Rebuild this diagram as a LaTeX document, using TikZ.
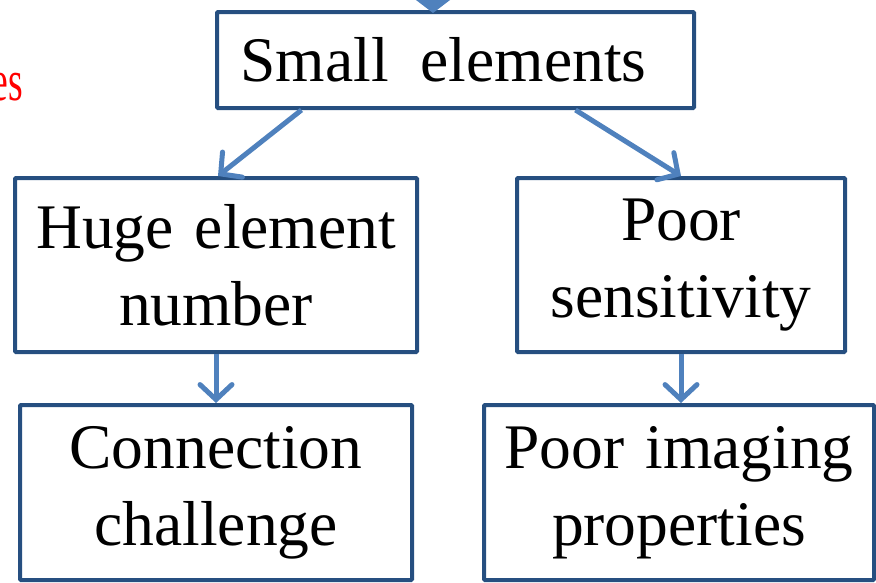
\documentclass[tikz,border=0pt]{standalone}
\usepackage{fontspec}
\setmainfont{Liberation Serif}
\usetikzlibrary{arrows.meta}
\definecolor{boxblue}{RGB}{38,79,128}
\definecolor{arrowblue}{RGB}{79,129,189}
\tikzset{
  case/.style={draw=boxblue, line width=4pt, rounded corners=1pt, inner sep=0pt,
    align=center, font=\fontsize{63.5}{77}\selectfont},
  fleche/.style={draw=arrowblue, line width=5pt,
    -{Straight Barb[length=15pt,width=32pt,line cap=round]}},
}
\begin{document}
\begin{tikzpicture}[x=1pt, y=-1pt]
\useasboundingbox (0,0) rectangle (876,582);
\clip (0,0) rectangle (876,582);
%
\node[case, minimum width=477pt, minimum height=96pt] (small) at (455.5,60) {\raisebox{-6pt}{Small~ elements}\hspace*{24pt}};
\node[case, minimum width=402pt, minimum height=174pt, text width=394pt] (huge) at (216,265) {Huge element\\number};
\node[case, minimum width=328pt, minimum height=174pt, text width=320pt] (sens) at (681,265) {Poor\\sensitivity};
\node[case, minimum width=392pt, minimum height=175pt, text width=384pt] (conn) at (216,492.5) {Connection\\challenge};
\node[case, minimum width=390pt, minimum height=175pt, text width=384pt] (imag) at (679,492.5) {Poor imaging\\properties};
%
\node[anchor=base east, text=red, font=\fontsize{58}{64}\selectfont, inner sep=0pt] (rest) at (23,100) {\scalebox{0.65}[1]{es}}; % texte coupe
%
\coordinate (feed) at (433,-40);
\draw[draw=arrowblue, line width=5pt, -{Triangle[length=24pt,width=62pt]}] (feed) -- ([yshift=-3pt]feed |- small.north); % fleche du haut
\draw[fleche] ([xshift=-154pt]small.south) -- ([xshift=2pt]huge.north);
\draw[fleche] ([xshift=120pt]small.south) -- (sens.north);
\draw[fleche] (huge) -- (conn);
\draw[fleche] (sens.south) -- (sens.south |- imag.north);
\end{tikzpicture}
\end{document}
